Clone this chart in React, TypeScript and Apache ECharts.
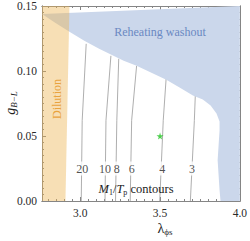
import React, { useEffect, useRef } from "react";
import * as echarts from "echarts";

// ---- axis ticks ----
const xMin = 2.76;
const xMax = 4.0;
const yMin = 0;
const yMax = 0.15;
const xTickMajor = [3.0, 3.5, 4.0];
const xTickMinor = [2.8, 2.85, 2.9, 2.95, 3.05, 3.1, 3.15, 3.2, 3.25, 3.3, 3.35, 3.4, 3.45, 3.55, 3.6, 3.65, 3.7, 3.75, 3.8, 3.85, 3.9, 3.95];
const yTickMajor = [0, 0.05, 0.1, 0.15];
const yTickMinor = [0.005, 0.01, 0.015, 0.02, 0.025, 0.03, 0.035, 0.04, 0.045, 0.055, 0.06, 0.065, 0.07, 0.075, 0.08, 0.085, 0.09, 0.095, 0.105, 0.11, 0.115, 0.12, 0.125, 0.13, 0.135, 0.14, 0.145];

// ---- reheating washout boundary (lower-left edge of the blue region) ----
const washoutLam = [2.76, 2.845, 2.932, 3.025, 3.118, 3.272, 3.353, 3.446, 3.539, 3.625, 3.706, 3.768, 3.817, 3.854, 3.873, 3.873, 3.867, 3.861, 3.867, 3.873, 3.879, 4.0, 4.0];
const washoutG = [0.1438, 0.137, 0.1301, 0.1232, 0.1171, 0.1079, 0.1041, 0.0987, 0.0933, 0.0872, 0.0811, 0.078, 0.0735, 0.0673, 0.0612, 0.0543, 0.0428, 0.0314, 0.0199, 0.0084, 0, 0, 0.15];

// ---- dilution band ----
const dilutionLam = [2.76, 2.907, 2.932, 2.76];
const dilutionG = [0, 0, 0.15, 0.15];

// ---- M1/Tp contours ----
const contourLevels = ["20", "10", "8", "6", "4", "3"];
const contourLam = [
  [3.006, 3.012, 3.037],
  [3.155, 3.161, 3.192],
  [3.221, 3.229, 3.241],
  [3.313, 3.322, 3.353],
  [3.498, 3.52, 3.538],
  [3.69, 3.715, 3.721],
];
const contourG = [
  [0, 0.062, 0.1209],
  [0, 0.062, 0.1117],
  [0, 0.062, 0.1094],
  [0, 0.062, 0.104],
  [0, 0.062, 0.0941],
  [0, 0.062, 0.0811],
];
const contourLabelLam = [3.012, 3.155, 3.229, 3.322, 3.514, 3.7];
const contourLabelG = [0.025, 0.025, 0.025, 0.025, 0.025, 0.025];

// ---- benchmark point ----
const starLam = [3.5];
const starG = [0.05];

const SERIF = "'Liberation Serif', 'DejaVu Serif', serif";
const FRAME = "#858585";
const TICK_COLOR = "#2a2a2a";

function polygonSeries(lam: number[], g: number[], fill: string, z: number) {
  const pts = lam.map((l, i) => [l, g[i]]);
  return {
    type: "custom",
    silent: true,
    z,
    clip: true,
    xAxisIndex: 0,
    yAxisIndex: 0,
    data: pts,
    renderItem: (params: any, api: any) => {
      if (params.dataIndex !== 0) return null;
      const points = pts.map((p) => api.coord(p));
      return { type: "polygon", shape: { points }, style: { fill, stroke: "none" } };
    },
  };
}

function xAxisDef(position: string, ticks: number[], len: number, labels: boolean) {
  return {
    type: "value",
    min: xMin,
    max: xMax,
    position,
    axisLine: { show: true, onZero: false, lineStyle: { color: FRAME, width: 1 } },
    axisTick: { show: true, inside: true, length: len, customValues: ticks, lineStyle: { color: FRAME, width: 1 } },
    axisLabel: labels
      ? {
          show: true,
          customValues: xTickMajor,
          formatter: (v: number) => v.toFixed(1),
          fontFamily: SERIF,
          fontSize: 11.5,
          color: TICK_COLOR,
          margin: 6,
        }
      : { show: false },
    splitLine: { show: false },
  };
}

function yAxisDef(position: string, ticks: number[], len: number, labels: boolean) {
  return {
    type: "value",
    min: yMin,
    max: yMax,
    position,
    axisLine: { show: true, onZero: false, lineStyle: { color: FRAME, width: 1 } },
    axisTick: { show: true, inside: true, length: len, customValues: ticks, lineStyle: { color: FRAME, width: 1 } },
    axisLabel: labels
      ? {
          show: true,
          customValues: yTickMajor,
          formatter: (v: number) => v.toFixed(2),
          fontFamily: SERIF,
          fontSize: 11.5,
          color: TICK_COLOR,
          margin: 5,
        }
      : { show: false },
    splitLine: { show: false },
  };
}

export default function App() {
  const ref = useRef<HTMLDivElement>(null);
  useEffect(() => {
    if (!ref.current) return;
    document.body.style.margin = "0";
    const chart = echarts.init(ref.current, null, { renderer: "svg" });

    const lineSeries = contourLevels.map((lvl, k) => ({
      type: "line",
      name: "M1/Tp = " + lvl,
      xAxisIndex: 0,
      yAxisIndex: 0,
      z: 1,
      silent: true,
      showSymbol: false,
      symbol: "none",
      lineStyle: { color: "#999999", width: 0.8 },
      data: contourLam[k].map((l, i) => [l, contourG[k][i]]),
    }));

    const option: any = {
      animation: false,
      backgroundColor: "#fff",
      grid: { left: 42, right: 7, top: 5, bottom: 40, containLabel: false },
      xAxis: [
        xAxisDef("bottom", xTickMajor, 4, true),
        xAxisDef("bottom", xTickMinor, 2, false),
        xAxisDef("top", xTickMajor, 4, false),
        xAxisDef("top", xTickMinor, 2, false),
      ],
      yAxis: [
        yAxisDef("left", yTickMajor, 4, true),
        yAxisDef("left", yTickMinor, 2, false),
        yAxisDef("right", yTickMajor, 4, false),
        yAxisDef("right", yTickMinor, 2, false),
      ],
      series: [
        ...lineSeries,
        polygonSeries(washoutLam, washoutG, "rgb(203,215,235)", 2),
        polygonSeries(dilutionLam, dilutionG, "rgba(236,179,79,0.42)", 3),
        {
          type: "scatter",
          xAxisIndex: 0,
          yAxisIndex: 0,
          z: 4,
          silent: true,
          symbolSize: 0,
          data: contourLabelLam.map((l, i) => ({ value: [l, contourLabelG[i]], name: contourLevels[i] })),
          label: {
            show: true,
            position: "inside",
            formatter: (p: any) => p.name,
            fontFamily: SERIF,
            fontSize: 12,
            color: "#222",
            backgroundColor: "#fff",
            padding: [1, 0],
          },
        },
        {
          type: "scatter",
          xAxisIndex: 0,
          yAxisIndex: 0,
          z: 5,
          silent: true,
          symbol: "path://M50,0 L61,35 L98,35 L68,57 L79,91 L50,70 L21,91 L32,57 L2,35 L39,35 Z",
          symbolSize: 7,
          itemStyle: { color: "#22c322" },
          data: starLam.map((l, i) => [l, starG[i]]),
        },
      ],
      graphic: [
        {
          type: "text",
          x: 160,
          y: 32,
          z: 10,
          style: {
            text: "Reheating washout",
            fontFamily: SERIF,
            fontSize: 12,
            fill: "#6a88c2",
            align: "center",
            verticalAlign: "middle",
          },
        },
        {
          type: "text",
          x: 57,
          y: 99,
          rotation: Math.PI / 2,
          z: 10,
          style: {
            text: "Dilution",
            fontFamily: SERIF,
            fontSize: 12,
            fill: "#e9a33e",
            align: "center",
            verticalAlign: "middle",
          },
        },
        {
          type: "text",
          x: 136,
          y: 189,
          z: 10,
          style: {
            text: "{i|M}{s|1}{n|/}{i|T}{s|p}{n| contours}",
            fontFamily: SERIF,
            fontSize: 12,
            fill: "#222",
            align: "center",
            verticalAlign: "middle",
            rich: {
              i: { fontFamily: SERIF, fontStyle: "italic", fontSize: 12.5, lineHeight: 14, fill: "#222" },
              n: { fontFamily: SERIF, fontSize: 12.5, lineHeight: 14, fill: "#222" },
              s: { fontFamily: SERIF, fontSize: 8, lineHeight: 8, verticalAlign: "bottom", fill: "#222" },
            },
          },
        },
        {
          type: "text",
          x: 10,
          y: 103,
          rotation: Math.PI / 2,
          z: 10,
          style: {
            text: "{i|g}{s|B−L}",
            fontFamily: SERIF,
            fontSize: 13,
            fill: "#222",
            align: "center",
            verticalAlign: "middle",
            rich: {
              i: { fontFamily: SERIF, fontStyle: "italic", fontSize: 14, lineHeight: 16, fill: "#222" },
              s: { fontFamily: SERIF, fontStyle: "italic", fontSize: 9, lineHeight: 9, verticalAlign: "bottom", fill: "#222" },
            },
          },
        },
        {
          type: "text",
          x: 165,
          y: 228,
          z: 10,
          style: {
            text: "{n|λ}{s|ϕs}",
            fontFamily: SERIF,
            fontSize: 13,
            fill: "#222",
            align: "center",
            verticalAlign: "middle",
            rich: {
              n: { fontFamily: SERIF, fontSize: 14, lineHeight: 16, fill: "#222" },
              s: { fontFamily: SERIF, fontSize: 9, lineHeight: 9, verticalAlign: "bottom", fill: "#222" },
            },
          },
        },
      ],
    };
    chart.setOption(option);
    return () => chart.dispose();
  }, []);

  return <div ref={ref} style={{ width: 250, height: 241, position: "absolute", left: 0, top: 0 }} />;
}
